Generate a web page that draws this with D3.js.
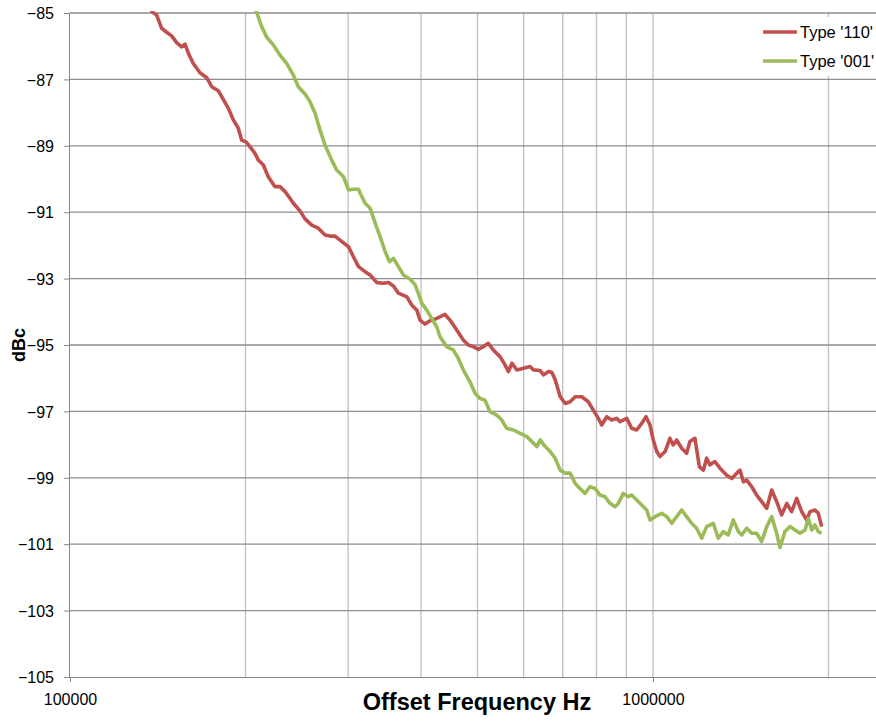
<!DOCTYPE html>
<html>
<head>
<meta charset="utf-8">
<script src="https://cdn.jsdelivr.net/npm/d3@7"></script>
<style>
  body { margin: 0; background: #fff; }
  svg { display: block; font-family: "Liberation Sans", Arial, sans-serif; }
  .axis path, .axis line { stroke: #868686; }
  .axis text { font-size: 16px; fill: #000; }
</style>
</head>
<body>
<svg id="chart"></svg>
<script>
// offset frequency (kHz) and level (dBc)
const seriesNames = ["Type '110'", "Type '001'"];
const seriesColors = ["#c0504d", "#9bbb59"];

const freq110 = [137.2, 138.6, 140.8, 143.6, 146.5, 149.4, 152.4, 155.4, 157.5, 159.6, 162.7, 167.1, 171.6, 175.0, 179.6, 183.2, 186.9, 190.6, 194.4, 197.0, 200.4, 203.6, 207.6, 210.4, 214.6, 218.8, 224.7, 229.2, 233.8, 238.4, 241.6, 248.0, 253.0, 259.8, 266.6, 273.8, 279.2, 284.8, 290.5, 300.4, 306.3, 312.5, 320.8, 327.2, 336.0, 344.9, 351.8, 358.8, 365.9, 378.3, 385.8, 393.5, 398.4, 406.4, 414.5, 425.6, 439.8, 448.5, 460.6, 472.7, 482.2, 491.8, 501.6, 511.6, 521.8, 532.2, 546.5, 557.4, 565.0, 572.7, 584.1, 599.5, 615.6, 623.7, 640.4, 648.8, 661.8, 670.8, 679.6, 693.1, 706.9, 721.0, 735.4, 754.6, 774.5, 790.0, 805.7, 816.6, 832.9, 849.5, 866.5, 877.9, 889.4, 901.4, 919.3, 937.7, 956.4, 972.7, 988.2, 1001, 1015, 1028, 1049, 1069, 1083, 1098, 1120, 1142, 1157, 1180, 1201, 1220, 1236, 1252, 1277, 1303, 1338, 1365, 1392, 1410, 1429, 1448, 1477, 1506, 1536, 1567, 1598, 1630, 1662, 1696, 1729, 1764, 1799, 1835, 1859, 1896, 1921, 1947];
const db110 = [-84.85, -84.98, -85.06, -85.46, -85.58, -85.69, -85.89, -86.02, -85.94, -86.21, -86.52, -86.80, -86.95, -87.22, -87.34, -87.60, -87.87, -88.22, -88.47, -88.83, -88.88, -89.03, -89.23, -89.43, -89.58, -89.93, -90.23, -90.23, -90.38, -90.58, -90.73, -90.96, -91.20, -91.39, -91.48, -91.69, -91.72, -91.72, -91.84, -92.04, -92.34, -92.64, -92.79, -92.89, -93.12, -93.14, -93.12, -93.22, -93.44, -93.55, -93.80, -93.95, -94.25, -94.37, -94.27, -94.20, -94.08, -94.25, -94.55, -94.85, -95.00, -95.05, -95.13, -95.05, -94.95, -95.15, -95.35, -95.60, -95.80, -95.55, -95.75, -95.70, -95.65, -95.75, -95.77, -95.90, -95.80, -95.83, -96.05, -96.56, -96.76, -96.71, -96.56, -96.56, -96.71, -96.96, -97.21, -97.41, -97.16, -97.26, -97.21, -97.31, -97.26, -97.21, -97.51, -97.56, -97.36, -97.16, -97.41, -97.86, -98.21, -98.36, -98.21, -97.81, -98.01, -97.86, -98.11, -98.26, -97.91, -97.81, -98.67, -98.77, -98.41, -98.61, -98.51, -98.71, -98.92, -99.02, -98.86, -98.77, -99.12, -99.07, -99.27, -99.52, -99.72, -99.92, -99.37, -99.72, -100.12, -99.77, -100.02, -99.62, -100.02, -100.27, -100.02, -99.97, -100.07, -100.47];

const freq001 = [207.6, 209.0, 213.2, 217.5, 223.2, 229.2, 235.3, 241.6, 246.4, 253.0, 258.0, 263.2, 268.4, 273.8, 281.1, 286.7, 294.5, 300.4, 306.3, 312.5, 314.6, 320.8, 327.2, 333.8, 340.4, 347.2, 353.2, 358.8, 365.9, 373.2, 383.2, 390.9, 395.8, 401.1, 409.1, 417.3, 425.6, 431.2, 442.7, 454.4, 463.5, 472.7, 485.4, 495.1, 505.0, 515.0, 525.3, 539.4, 550.2, 561.1, 576.3, 591.8, 607.6, 619.8, 632.1, 640.4, 653.2, 666.3, 679.6, 693.1, 706.9, 721.0, 735.4, 749.5, 764.5, 779.7, 795.3, 811.1, 827.3, 843.8, 860.7, 872.0, 889.4, 907.1, 919.3, 937.7, 956.4, 975.4, 988.2, 1008, 1035, 1056, 1077, 1098, 1120, 1142, 1165, 1188, 1212, 1236, 1269, 1294, 1320, 1346, 1373, 1401, 1420, 1448, 1477, 1506, 1536, 1567, 1598, 1630, 1651, 1684, 1718, 1752, 1787, 1823, 1847, 1872, 1896, 1921, 1947];
const db001 = [-84.85, -84.98, -85.41, -85.73, -85.96, -86.27, -86.52, -86.87, -87.22, -87.44, -87.67, -88.02, -88.52, -88.98, -89.43, -89.73, -89.93, -90.33, -90.31, -90.31, -90.43, -90.73, -90.88, -91.33, -91.74, -92.19, -92.49, -92.39, -92.64, -92.89, -93.02, -93.19, -93.44, -93.74, -93.95, -94.20, -94.45, -94.75, -95.05, -95.15, -95.40, -95.75, -96.11, -96.45, -96.61, -96.66, -97.01, -97.11, -97.26, -97.51, -97.56, -97.66, -97.76, -97.91, -98.06, -97.86, -98.06, -98.21, -98.41, -98.77, -98.86, -98.86, -99.17, -99.32, -99.47, -99.27, -99.32, -99.52, -99.57, -99.77, -99.87, -99.77, -99.47, -99.57, -99.52, -99.67, -99.82, -99.97, -100.27, -100.17, -100.07, -100.17, -100.37, -100.17, -99.97, -100.17, -100.37, -100.52, -100.82, -100.47, -100.37, -100.82, -100.62, -100.72, -100.27, -100.62, -100.72, -100.52, -100.67, -100.67, -100.92, -100.47, -100.17, -100.67, -101.10, -100.62, -100.47, -100.57, -100.67, -100.57, -100.22, -100.57, -100.42, -100.62, -100.67];

const yTicks = [-85, -87, -89, -91, -93, -95, -97, -99, -101, -103, -105];
const xLabelTicks = [100000, 1000000];
const xGridTicks = [200000, 300000, 400000, 500000, 600000, 700000, 800000, 900000, 1000000, 2000000, 3000000];

const width = 876, height = 721;
const margin = {top: 13, left: 70};
const plotBottom = 677;
const decade = 583;

const svg = d3.select("#chart").attr("width", width).attr("height", height);

// log axis runs to 1e7, the picture is cut at the right edge
const x = d3.scaleLog().domain([1e5, 1e7]).range([margin.left, margin.left + 2 * decade]);
const y = d3.scaleLinear().domain([-105, -85]).range([plotBottom, margin.top]);

svg.append("defs").append("clipPath").attr("id", "plotClip")
  .append("rect")
  .attr("x", margin.left).attr("y", margin.top - 2)
  .attr("width", width - margin.left).attr("height", plotBottom - margin.top + 2);

// vertical grid (lighter)
svg.append("g").selectAll("line")
  .data(xGridTicks.filter(d => x(d) < width))
  .join("line")
  .attr("x1", d => x(d)).attr("x2", d => x(d))
  .attr("y1", margin.top).attr("y2", plotBottom)
  .attr("stroke", "#bfbfbf").attr("stroke-width", 1.3);

// horizontal grid (darker)
svg.append("g").selectAll("line")
  .data(yTicks.filter(d => d !== -105))
  .join("line")
  .attr("x1", margin.left).attr("x2", width)
  .attr("y1", d => y(d)).attr("y2", d => y(d))
  .attr("stroke", "#8c8c8c").attr("stroke-width", 1.3);

// series
const line = d3.line().x(d => x(d[0])).y(d => y(d[1]));
const series = [
  freq110.map((f, i) => [f * 1000, db110[i]]),
  freq001.map((f, i) => [f * 1000, db001[i]])
];
svg.append("g").attr("clip-path", "url(#plotClip)")
  .selectAll("path")
  .data(series)
  .join("path")
  .attr("d", line)
  .attr("fill", "none")
  .attr("stroke", (d, i) => seriesColors[i])
  .attr("stroke-width", 3.6)
  .attr("stroke-linejoin", "round");

// axes
const yAxis = d3.axisLeft(y).tickValues(yTicks).tickSize(6).tickPadding(10).tickFormat(d3.format("d"));
svg.append("g").attr("class", "axis")
  .attr("transform", `translate(${margin.left},0)`)
  .call(yAxis)
  .call(g => g.select(".domain").attr("d", `M-0.5,${margin.top}V${plotBottom}`))
  .call(g => g.selectAll("text").attr("x", -16).attr("dy", "0.36em"));

const xAxis = d3.axisBottom(x).tickValues(xLabelTicks).tickSize(5).tickPadding(8).tickFormat(d3.format("d"));
svg.append("g").attr("class", "axis")
  .attr("transform", `translate(0,${plotBottom})`)
  .call(xAxis)
  .call(g => g.select(".domain").attr("d", `M${margin.left},0.5H${width}`))
  .call(g => g.selectAll("text").attr("dy", "0.95em"));

// axis titles
svg.append("text")
  .attr("x", 477).attr("y", 710)
  .attr("text-anchor", "middle")
  .attr("font-weight", "bold").attr("font-size", 23.5)
  .text("Offset Frequency Hz");

svg.append("text")
  .attr("transform", "translate(25,345) rotate(-90)")
  .attr("text-anchor", "middle")
  .attr("font-weight", "bold").attr("font-size", 18)
  .text("dBc");

// legend, white box hides the grid behind it
const legend = svg.append("g");
legend.append("rect")
  .attr("x", 755).attr("y", 17).attr("width", 130).attr("height", 59)
  .attr("fill", "#fff");
const items = legend.selectAll("g.item")
  .data(seriesNames)
  .join("g").attr("class", "item")
  .attr("transform", (d, i) => `translate(0,${32 + i * 29})`);
items.append("line")
  .attr("x1", 763).attr("x2", 797)
  .attr("stroke", (d, i) => seriesColors[i]).attr("stroke-width", 3.6);
items.append("text")
  .attr("x", 800).attr("dy", "0.36em")
  .attr("font-size", 16.5)
  .text(d => d);
</script>
</body>
</html>
